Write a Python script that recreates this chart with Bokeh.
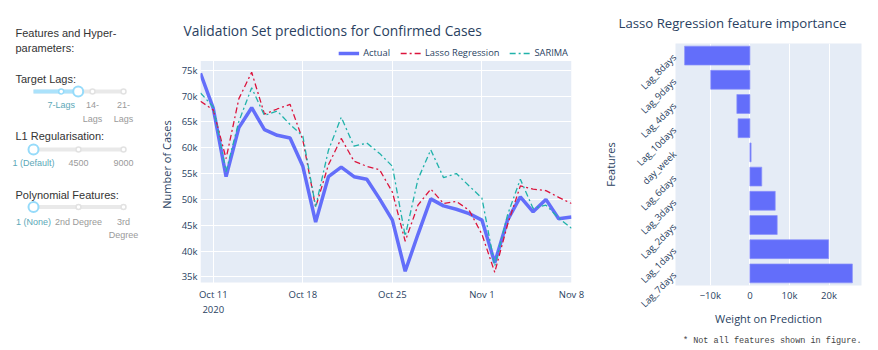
import pandas as pd
from math import pi
from bokeh.plotting import figure
from bokeh.layouts import row
from bokeh.models import Range1d, FixedTicker, Legend, Title, FactorRange
from bokeh.embed import file_html
from bokeh.resources import INLINE
from bokeh.core.properties import value

# ---------------- data ----------------
dates = pd.date_range("2020-10-10", periods=30, freq="D")
actual = [74400, 67600, 54400, 63900, 67750, 63500, 62400, 61900, 56400, 45600,
          54400, 56250, 54400, 53900, 50100, 46000, 36100, 43250, 50100, 48750,
          48100, 47250, 46000, 37750, 46000, 50500, 47600, 50000, 46250, 46600]
lasso = [69000, 67300, 57900, 69500, 74600, 66500, 67500, 68400, 61500, 48500,
         56700, 61800, 57400, 56400, 55750, 51400, 41900, 48900, 52000, 49200,
         49600, 47900, 43250, 35900, 45100, 52600, 52000, 51700, 50400, 49200]
sarima = [70600, 67900, 55400, 65100, 71600, 66250, 67100, 64500, 62250, 48600,
          59500, 65900, 60300, 60900, 58900, 56400, 42900, 53900, 59600, 54200,
          55000, 52600, 50250, 37100, 47000, 53900, 48250, 48900, 46400, 44400]
series_names = ["Actual", "Lasso Regression", "SARIMA"]

x_tick_dates = ["2020-10-11", "2020-10-18", "2020-10-25", "2020-11-01", "2020-11-08"]
x_tick_labels = ["Oct 11\n2020", "Oct 18", "Oct 25", "Nov 1", "Nov 8"]
y_ticks = [35000, 40000, 45000, 50000, 55000, 60000, 65000, 70000, 75000]
y_tick_labels = ["35k", "40k", "45k", "50k", "55k", "60k", "65k", "70k", "75k"]

features = ["Lag_8days", "Lag_9days", "Lag_4days", "Lag_10days", "day_week",
            "Lag_6days", "Lag_3days", "Lag_2days", "Lag_1days", "Lag_7days"]
weights = [-16500, -9900, -3300, -3000, 300, 3000, 6400, 6900, 19900, 25900]
w_ticks = [-10000, 0, 10000, 20000]
w_tick_labels = ["\u221210k", "0", "10k", "20k"]

panel_title = ["Features and Hyper-", "parameters:"]
slider_names = ["Target Lags:", "L1 Regularisation:", "Polynomial Features:"]
slider_marks = [["", "7-Lags", "14-\nLags", "21-\nLags"],
                ["1 (Default)", "4500", "9000"],
                ["1 (None)", "2nd Degree", "3rd\nDegree"]]
slider_active = ["7-Lags", "1 (Default)", "1 (None)"]

FONT = "Open Sans"
TXT = "#2a3f5f"
BG = "#E5ECF6"
H = 350
TOP, BOT = 43, 57          # shared frame borders (frames are aligned in a row)
FR_TOP, FR_BOT = TOP, H - BOT

# ---------------- left control panel ----------------
pl = figure(width=155, height=H, x_range=Range1d(0, 155), y_range=Range1d(FR_BOT, FR_TOP),
            output_backend="svg", toolbar_location=None, min_border_left=0, min_border_right=0,
            min_border_top=TOP, min_border_bottom=BOT,
            outline_line_color=None, background_fill_color="white")
pl.axis.visible = False
pl.grid.visible = False
pl.title.text = panel_title[0]
pl.title.text_font = "Liberation Sans"
pl.title.text_font_size = "11px"
pl.title.text_font_style = "normal"
pl.title.text_color = "#333333"
pl.title.offset = 15
pl.title.standoff = 9
hf = value("Liberation Sans")
pl.text(x=[15], y=[47.5], text=[panel_title[1]], text_font=hf, text_font_size="11px",
        text_color="#333333", text_baseline="middle")
head_y = [80, 138.5, 199]
rail_y = [92.5, 152.5, 212]
label_y = [107, 166.5, 227]
rail_x0, rail_x1 = 33, 123
handle_x = [77.7, 33, 33]
for k in range(3):
    pl.text(x=[15], y=[head_y[k]], text=[slider_names[k]], text_font=hf, text_font_size="11px",
            text_color="#333333", text_baseline="middle")
    ry = rail_y[k]
    pl.line([rail_x0, rail_x1], [ry, ry], line_color="#e9e9e9", line_width=4)
    if handle_x[k] > rail_x0:
        pl.line([rail_x0, handle_x[k]], [ry, ry], line_color="#abe2fb", line_width=4)
    marks = slider_marks[k]
    n = len(marks)
    if n == 4:
        mx = [rail_x0, 60.7, 92, 123]
    else:
        mx = [rail_x0 + (rail_x1 - rail_x0) * i / (n - 1) for i in range(n)]
    for i, m in enumerate(marks):
        if m == "":
            continue
        act = mx[i] <= handle_x[k]
        pl.scatter([mx[i]], [ry], size=5, fill_color="white",
                   line_color="#96dbfa" if act else "#e2e2e2", line_width=1.5)
        lines = m.split("\n")
        for j, ln in enumerate(lines):
            pl.text(x=[mx[i]], y=[label_y[k] + 13.5 * j], text=[ln], text_font=hf,
                    text_font_size="9px", text_align="center", text_baseline="middle",
                    text_color="#5ba8b8" if m == slider_active[k] else "#9a9a9a")
    pl.scatter([handle_x[k]], [ry], size=10, fill_color="white", line_color="#96dbfa",
               line_width=2)

# ---------------- main chart ----------------
xd = [(d - dates[0]).days for d in dates]
xt = [(pd.Timestamp(d) - dates[0]).days for d in x_tick_dates]

# plot area spans y 33.9k..76.8k (screen 61..290); frame spans 43..293
y_lo, y_hi = 33900, 76800
per_px = (y_hi - y_lo) / (290 - 61)
y_start = y_lo - (FR_BOT - 290) * per_px
y_end = y_hi + (61 - FR_TOP) * per_px

p = figure(width=445, height=H, output_backend="svg", toolbar_location=None,
           x_range=Range1d(xd[0], xd[-1]), y_range=Range1d(y_start, y_end),
           min_border_left=42, min_border_right=29, min_border_top=TOP, min_border_bottom=BOT,
           background_fill_color="white", outline_line_color=None)
p.title.text = "Validation Set predictions for Confirmed Cases"
p.title.text_font = FONT
p.title.text_font_size = "13.8px"
p.title.text_font_style = "normal"
p.title.text_color = TXT
p.title.offset = -17
p.title.standoff = 8

p.quad(left=[xd[0]], right=[xd[-1]], bottom=[y_lo], top=[y_hi], fill_color=BG,
       line_color=None, level="image")

r1 = p.line(xd, actual, line_color="#636EFA", line_width=3.5)
r2 = p.line(xd, lasso, line_color="crimson", line_width=1.3, line_dash="6 3 2 3")
r3 = p.line(xd, sarima, line_color="lightseagreen", line_width=1.3, line_dash="6 3 2 3")

p.xaxis.ticker = FixedTicker(ticks=xt)
p.xaxis.major_label_overrides = {t: l for t, l in zip(xt, x_tick_labels)}
p.yaxis.ticker = FixedTicker(ticks=y_ticks)
p.yaxis.major_label_overrides = {t: l for t, l in zip(y_ticks, y_tick_labels)}
p.yaxis.axis_label = "Number of Cases"


def style_axes(fig):
    for ax in fig.axis:
        ax.axis_line_color = None
        ax.major_tick_line_color = None
        ax.minor_tick_line_color = None
        ax.major_tick_out = 0
        ax.major_tick_in = 0
        ax.minor_tick_out = 0
        ax.minor_tick_in = 0
        ax.major_label_text_font = FONT
        ax.major_label_text_font_size = "9.5px"
        ax.major_label_text_color = TXT
        ax.axis_label_text_font = FONT
        ax.axis_label_text_font_size = "11px"
        ax.axis_label_text_font_style = "normal"
        ax.axis_label_text_color = TXT


style_axes(p)
p.yaxis.major_label_standoff = 3
p.xaxis.major_label_standoff = 2
p.yaxis.axis_label_standoff = 5
p.grid.grid_line_color = "white"
p.grid.grid_line_width = 1
p.xgrid.bounds = (y_lo, y_hi)

legend = Legend(items=[(series_names[0], [r1]), (series_names[1], [r2]), (series_names[2], [r3])],
                orientation="horizontal", location="top_right",
                label_text_font=FONT, label_text_font_size="9.3px", label_text_color=TXT,
                glyph_width=21, glyph_height=10, spacing=10, padding=0, margin=3,
                label_standoff=4, background_fill_alpha=0, border_line_color=None,
                label_height=11)
p.add_layout(legend, "center")

# ---------------- feature importance ----------------
p2 = figure(width=278, height=H, output_backend="svg", toolbar_location=None,
            y_range=FactorRange(factors=features[::-1]), x_range=Range1d(-18800, 28200),
            min_border_left=73, min_border_right=17, min_border_top=TOP, min_border_bottom=BOT,
            background_fill_color=BG, outline_line_color=None)
p2.title.text = "Lasso Regression feature importance"
p2.title.text_font = FONT
p2.title.text_font_size = "13.2px"
p2.title.text_font_style = "normal"
p2.title.text_color = TXT
p2.title.offset = -57
p2.title.standoff = 23
p2.hbar(y=features, left=0, right=weights, height=0.78, fill_color="#636EFA",
        line_color="#8c94fb", line_width=0.7)
p2.xaxis.ticker = FixedTicker(ticks=w_ticks)
p2.xaxis.major_label_overrides = {t: l for t, l in zip(w_ticks, w_tick_labels)}
p2.xaxis.axis_label = "Weight on Prediction"
p2.yaxis.axis_label = "Features"
p2.yaxis.major_label_orientation = pi / 4
style_axes(p2)
p2.xaxis.major_label_standoff = 3
p2.xaxis.axis_label_standoff = 6
p2.yaxis.major_label_standoff = 1
p2.yaxis.axis_label_standoff = 8
p2.ygrid.grid_line_color = None
p2.xgrid.grid_line_color = "white"
foot = Title(text="* Not all features shown in figure.", align="right",
             text_font="Liberation Mono", text_font_size="8.5px", text_font_style="normal",
             text_color="#444444")
p2.add_layout(foot, "below")

layout = row(pl, p, p2, spacing=0)
open("out.html", "w").write(file_html(layout, INLINE))
